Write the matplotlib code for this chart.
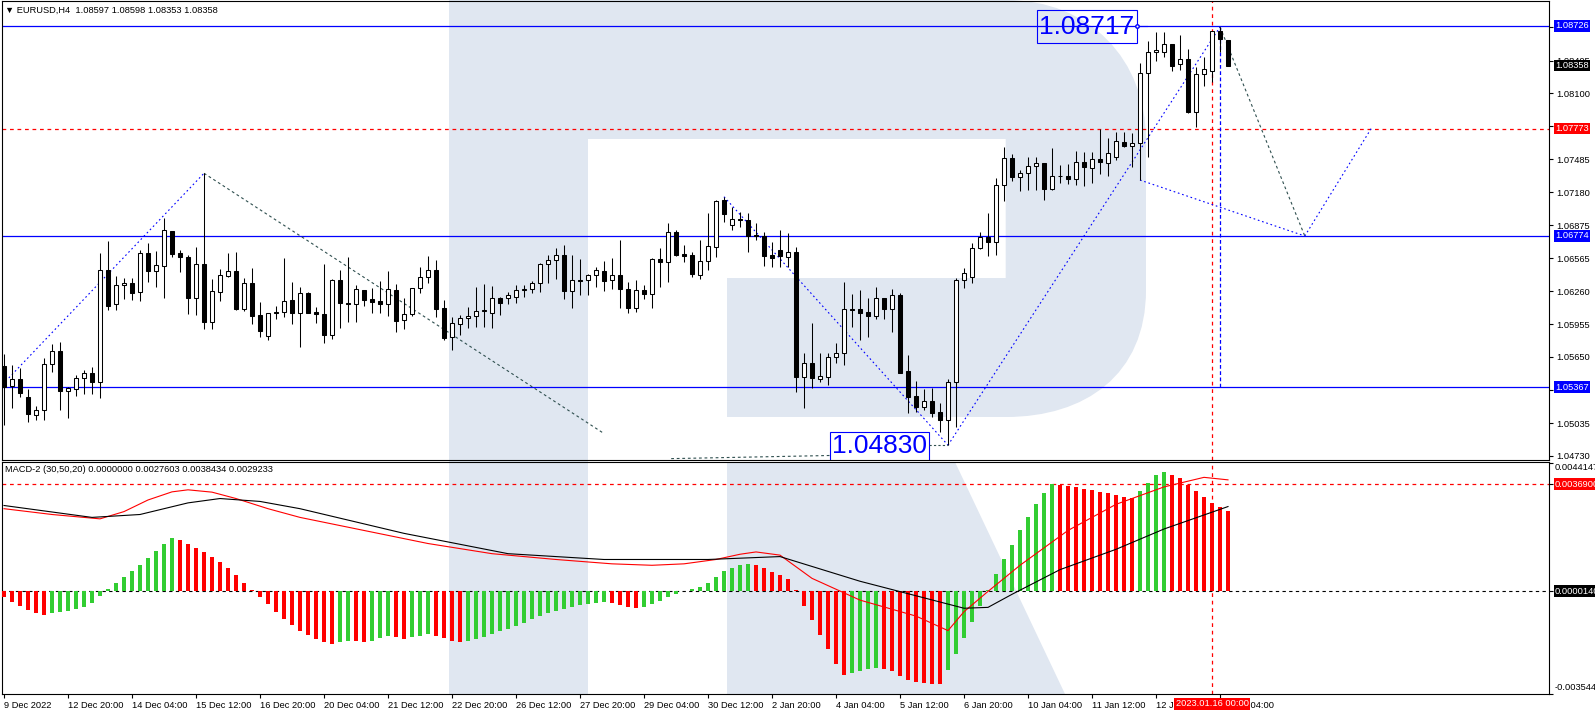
import numpy as np
import matplotlib
matplotlib.use("Agg")
import matplotlib.pyplot as plt
import matplotlib.transforms as mtransforms
from matplotlib.patches import Polygon, PathPatch, Rectangle
from matplotlib.path import Path

plt.rcParams['font.family'] = ['Liberation Sans', 'DejaVu Sans']

W, H = 1595, 716

# ── EURUSD H4 candles (bar 1 = 9 Dec 12:00) ────────────────────────────────
opens = [
    1.05566, 1.05380, 1.05442, 1.05275, 1.05108, 1.05154, 1.05582, 1.05703, 1.05331, 1.05352,
    1.05452, 1.05498, 1.05420, 1.06455, 1.06139, 1.06316, 1.06337, 1.06251, 1.06616, 1.06452,
    1.06498, 1.06820, 1.06613, 1.06576, 1.06201, 1.06511, 1.05978, 1.06251, 1.06405, 1.06446,
    1.06096, 1.06337, 1.06037, 1.05848, 1.06068, 1.06065, 1.06177, 1.06056, 1.06242, 1.06068,
    1.06046, 1.05851, 1.06362, 1.06154, 1.06139, 1.06269, 1.06189, 1.06170, 1.06139, 1.06269,
    1.05993, 1.06046, 1.06288, 1.06390, 1.06455, 1.06102, 1.05833, 1.05954, 1.06012, 1.06031,
    1.06077, 1.06061, 1.06198, 1.06198, 1.06205, 1.06272, 1.06279, 1.06334, 1.06511, 1.06548,
    1.06595, 1.06259, 1.06365, 1.06362, 1.06409, 1.06449, 1.06362, 1.06409, 1.06279, 1.06102,
    1.06272, 1.06232, 1.06560, 1.06535, 1.06808, 1.06604, 1.06597, 1.06414, 1.06539, 1.06675,
    1.07109, 1.06873, 1.06929, 1.06923, 1.06783, 1.06777, 1.06597, 1.06644, 1.06582, 1.06623,
    1.05461, 1.05591, 1.05448, 1.05461, 1.05652, 1.05684, 1.06093, 1.06093, 1.06068, 1.06031,
    1.06195, 1.06093, 1.06223, 1.05520, 1.05287, 1.05188, 1.05241, 1.05141, 1.05064, 1.05415,
    1.06365, 1.06390, 1.06660, 1.06762, 1.06715, 1.07248, 1.07496, 1.07319, 1.07357, 1.07425,
    1.07449, 1.07208, 1.07335, 1.07335, 1.07301, 1.07464, 1.07403, 1.07487, 1.07455, 1.07505,
    1.07650, 1.07610, 1.07641, 1.08286, 1.08481, 1.08481, 1.08555, 1.08369, 1.08416, 1.07929,
    1.08279, 1.08310, 1.08676, 1.08597,
]
highs = [
    1.05678, 1.05575, 1.05547, 1.05352, 1.05194, 1.05640, 1.05770, 1.05789, 1.05374, 1.05482,
    1.05529, 1.05560, 1.06613, 1.06728, 1.06402, 1.06381, 1.06381, 1.06644, 1.06706, 1.06637,
    1.06939, 1.06820, 1.06644, 1.06597, 1.06669, 1.07357, 1.06372, 1.06465, 1.06613, 1.06625,
    1.06381, 1.06474, 1.06164, 1.06056, 1.06121, 1.06567, 1.06347, 1.06297, 1.06254, 1.06112,
    1.06514, 1.06372, 1.06458, 1.06576, 1.06319, 1.06269, 1.06288, 1.06359, 1.06449, 1.06328,
    1.06195, 1.06288, 1.06483, 1.06588, 1.06551, 1.06179, 1.06024, 1.06040, 1.06117, 1.06297,
    1.06328, 1.06309, 1.06205, 1.06254, 1.06319, 1.06319, 1.06356, 1.06526, 1.06597, 1.06665,
    1.06690, 1.06595, 1.06558, 1.06418, 1.06483, 1.06545, 1.06569, 1.06737, 1.06349, 1.06365,
    1.06319, 1.06567, 1.06660, 1.06898, 1.06830, 1.06690, 1.06628, 1.06737, 1.06985, 1.07109,
    1.07139, 1.07046, 1.07000, 1.06985, 1.06892, 1.06808, 1.06721, 1.06830, 1.06799, 1.06675,
    1.05684, 1.05963, 1.05684, 1.05684, 1.05777, 1.06349, 1.06235, 1.06272, 1.06195, 1.06303,
    1.06195, 1.06284, 1.06247, 1.05668, 1.05427, 1.05349, 1.05359, 1.05219, 1.05442, 1.06381,
    1.06474, 1.06712, 1.06814, 1.06985, 1.07310, 1.07598, 1.07536, 1.07387, 1.07505, 1.07511,
    1.07449, 1.07594, 1.07434, 1.07443, 1.07564, 1.07557, 1.07557, 1.07765, 1.07682, 1.07743,
    1.07743, 1.07728, 1.08379, 1.08586, 1.08667, 1.08673, 1.08555, 1.08642, 1.08509, 1.08347,
    1.08434, 1.08680, 1.08717, 1.08598,
]
lows = [
    1.05018, 1.05176, 1.05281, 1.05046, 1.05064, 1.05064, 1.05513, 1.05157, 1.05086, 1.05290,
    1.05303, 1.05303, 1.05266, 1.06086, 1.06086, 1.06189, 1.06179, 1.06173, 1.06349, 1.06303,
    1.06195, 1.06582, 1.06442, 1.06046, 1.06040, 1.05910, 1.05910, 1.06170, 1.06396, 1.06086,
    1.06077, 1.05954, 1.05838, 1.05808, 1.06000, 1.06024, 1.05954, 1.05745, 1.06056, 1.05963,
    1.05777, 1.05814, 1.05922, 1.05972, 1.05978, 1.06126, 1.06056, 1.06056, 1.06033, 1.05885,
    1.05910, 1.06033, 1.06247, 1.06334, 1.06024, 1.05808, 1.05715, 1.05854, 1.05916, 1.05931,
    1.05931, 1.05916, 1.06043, 1.06139, 1.06154, 1.06210, 1.06242, 1.06256, 1.06340, 1.06372,
    1.06186, 1.06102, 1.06226, 1.06226, 1.06303, 1.06266, 1.06281, 1.06102, 1.06056, 1.06071,
    1.06186, 1.06102, 1.06303, 1.06349, 1.06588, 1.06535, 1.06396, 1.06372, 1.06458, 1.06582,
    1.06907, 1.06830, 1.06860, 1.06628, 1.06737, 1.06495, 1.06489, 1.06483, 1.06483, 1.05327,
    1.05179, 1.05359, 1.05420, 1.05390, 1.05597, 1.05575, 1.05931, 1.05808, 1.05838, 1.06000,
    1.06000, 1.05885, 1.05498, 1.05132, 1.05141, 1.05157, 1.05095, 1.04956, 1.04830, 1.05002,
    1.06288, 1.06340, 1.06650, 1.06591, 1.06597, 1.07102, 1.07288, 1.07195, 1.07201, 1.07201,
    1.07109, 1.07201, 1.07264, 1.07257, 1.07248, 1.07241, 1.07269, 1.07350, 1.07332, 1.07480,
    1.07598, 1.07418, 1.07294, 1.07505, 1.08403, 1.08440, 1.08310, 1.08316, 1.07920, 1.07790,
    1.08168, 1.08208, 1.08487, 1.08353,
]
closes = [
    1.05374, 1.05442, 1.05318, 1.05117, 1.05154, 1.05582, 1.05703, 1.05331, 1.05364, 1.05452,
    1.05498, 1.05420, 1.06455, 1.06126, 1.06319, 1.06337, 1.06247, 1.06616, 1.06452, 1.06505,
    1.06830, 1.06607, 1.06576, 1.06201, 1.06511, 1.05978, 1.06260, 1.06409, 1.06446, 1.06096,
    1.06337, 1.06033, 1.05894, 1.06056, 1.06056, 1.06167, 1.06056, 1.06242, 1.06061, 1.06046,
    1.05851, 1.06362, 1.06149, 1.06142, 1.06279, 1.06182, 1.06164, 1.06142, 1.06279, 1.05987,
    1.06046, 1.06288, 1.06390, 1.06455, 1.06099, 1.05826, 1.05963, 1.06012, 1.06031, 1.06080,
    1.06083, 1.06198, 1.06154, 1.06223, 1.06272, 1.06279, 1.06334, 1.06511, 1.06548, 1.06595,
    1.06266, 1.06362, 1.06360, 1.06409, 1.06455, 1.06359, 1.06409, 1.06279, 1.06108, 1.06272,
    1.06232, 1.06558, 1.06535, 1.06808, 1.06600, 1.06591, 1.06421, 1.06539, 1.06681, 1.07096,
    1.06976, 1.06929, 1.06923, 1.06777, 1.06774, 1.06591, 1.06572, 1.06588, 1.06623, 1.05461,
    1.05591, 1.05452, 1.05473, 1.05652, 1.05684, 1.06093, 1.06086, 1.06061, 1.06033, 1.06195,
    1.06093, 1.06223, 1.05504, 1.05281, 1.05188, 1.05241, 1.05132, 1.05064, 1.05415, 1.06365,
    1.06427, 1.06660, 1.06762, 1.06715, 1.07248, 1.07496, 1.07325, 1.07357, 1.07425, 1.07449,
    1.07208, 1.07332, 1.07330, 1.07301, 1.07464, 1.07412, 1.07487, 1.07459, 1.07548, 1.07659,
    1.07610, 1.07641, 1.08286, 1.08481, 1.08502, 1.08555, 1.08356, 1.08416, 1.07929, 1.08279,
    1.08323, 1.08676, 1.08602, 1.08358,
]

# ── MACD-2 (30,50,20), in units of 1e-4 ───────────────────────────────────
macd_hist = [
    -2.0, -3.5, -5.0, -6.5, -7.5, -8.0, -7.6, -7.2, -6.8, -6.2,
    -5.4, -4.0, -1.5, 1.0, 3.0, 5.0, 7.0, 9.0, 11.5, 14.0,
    16.5, 18.5, 17.8, 16.5, 15.0, 13.5, 12.0, 10.0, 8.0, 5.5,
    3.0, 0.5, -2.0, -4.5, -7.0, -9.5, -11.5, -13.5, -15.0, -16.5,
    -17.5, -18.0, -17.5, -17.0, -17.2, -17.6, -17.0, -16.2, -15.5, -15.8,
    -16.3, -15.8, -15.2, -14.6, -15.2, -16.2, -17.0, -17.4, -17.0, -16.4,
    -15.6, -14.8, -13.8, -12.8, -11.8, -10.8, -9.6, -8.4, -7.4, -6.6,
    -6.0, -5.4, -4.8, -4.3, -3.9, -3.6, -4.0, -4.6, -5.2, -5.6,
    -5.2, -4.2, -3.2, -1.8, -0.8, 0.2, 0.8, 1.6, 3.0, 5.0,
    7.0, 8.2, 9.0, 9.6, 9.0, 8.0, 6.8, 5.6, 4.2, 0.5,
    -5.0, -10.0, -15.0, -20.0, -25.0, -28.7, -28.2, -27.5, -26.8, -26.3,
    -26.6, -27.4, -29.0, -30.5, -31.3, -31.7, -31.9, -32.0, -27.0, -21.5,
    -16.0, -10.5, -5.0, 0.5, 6.0, 11.0, 16.0, 21.0, 25.5, 30.0,
    34.0, 37.0, 36.7, 36.3, 35.9, 35.4, 34.9, 34.4, 33.8, 33.2,
    32.6, 32.1, 34.5, 37.5, 40.0, 41.0, 40.2, 39.0, 36.5, 34.5,
    32.5, 30.5, 29.0, 27.6,
]
red_line_bars = [1, 7, 13, 16, 19, 22, 24, 27, 30, 34, 38, 46, 54, 62, 70, 77, 82, 86, 90,
                 93, 95, 98, 102, 108, 115, 119, 121, 124, 128, 134, 140, 146, 151, 154]
red_line_vals = [28.5, 26.5, 25.0, 27.5, 31.5, 34.3, 35.0, 34.2, 32.0, 28.5, 25.5, 21.0,
                 16.5, 13.0, 11.0, 9.5, 9.0, 9.5, 11.0, 12.8, 13.6, 12.5, 4.5, -3.0, -8.5,
                 -13.5, -7.0, 0.0, 9.0, 21.0, 30.0, 36.0, 39.3, 38.434]
black_line_bars = [1, 12, 18, 24, 28, 33, 38, 51, 64, 76, 89, 98, 108, 115, 121, 124, 127,
                   133, 140, 146, 154]
black_line_vals = [29.6, 25.5, 26.5, 30.5, 32.0, 31.0, 28.5, 20.0, 13.0, 11.0, 11.0, 12.0,
                   3.5, -1.5, -5.8, -5.5, -1.0, 7.5, 14.5, 21.5, 29.233]

# ── axis ticks / levels ───────────────────────────────────────────────────
tick_bars = [1, 9, 17, 25, 33, 41, 49, 57, 65, 73, 81, 89, 97, 105, 113, 121, 129, 137, 145, 153]
tick_labels = ["9 Dec 2022", "12 Dec 20:00", "14 Dec 04:00", "15 Dec 12:00", "16 Dec 20:00",
               "20 Dec 04:00", "21 Dec 12:00", "22 Dec 20:00", "26 Dec 12:00", "27 Dec 20:00",
               "29 Dec 04:00", "30 Dec 12:00", "2 Jan 20:00", "4 Jan 04:00", "5 Jan 12:00",
               "6 Jan 20:00", "10 Jan 04:00", "11 Jan 12:00", "12 Jan 20:00", "16 Jan 04:00"]
price_ticks = [1.04730, 1.05035, 1.05345, 1.05650, 1.05955, 1.06260, 1.06565, 1.06875,
               1.07180, 1.07485, 1.07795, 1.08100, 1.08405, 1.08715]
blue_levels = [1.08726, 1.06774, 1.05367]
red_level = 1.07773
last_close = 1.08358
macd_red_level = 0.0036900
macd_zero_level = 0.0000140
macd_top, macd_bottom = 0.0044147, -0.003544
cursor_bar = 152
cursor_label = "2023.01.16 00:00"

# wave / forecast lines: (bar positions, prices)
blue_waves = [([1.6, 26], [1.05455, 1.07357]),
              ([91, 119], [1.07139, 1.04830]),
              ([119, 153], [1.04830, 1.08717]),
              ([143, 163.6], [1.07294, 1.06774]),
              ([163.6, 171.9], [1.06774, 1.07773])]
grey_waves = [([26, 75.9], [1.07357, 1.04943]),
              ([84.4, 104.2], [1.04705, 1.04734]),
              ([153, 163.6], [1.08717, 1.06774])]

# ── figure & panes ────────────────────────────────────────────────────────
fig = plt.figure(figsize=(W / 100, H / 100), dpi=100)
fig.patch.set_facecolor("white")
pix = mtransforms.Affine2D().scale(1 / W, -1 / H).translate(0, 1) + fig.transFigure

def fx(px): return px / W
def fy(py): return 1 - py / H

ax1 = fig.add_axes([fx(2), fy(459.7), fx(1549) - fx(2), fy(1) - fy(459.7)])
ax2 = fig.add_axes([fx(2), fy(694.3), fx(1549) - fx(2), fy(461.7) - fy(694.3)])
xlim = (0.75, 194.125)
for ax in (ax1, ax2):
    ax.set_facecolor("none")
    ax.set_xlim(*xlim)
    for s in ax.spines.values():
        s.set_linewidth(0.8)
        s.set_color("black")
ax1.set_ylim(1.04695, 1.08958)
ax2.set_ylim(-0.003545, 0.004469)

# ── watermark "R" ─────────────────────────────────────────────────────────
wm = "#e0e7f1"
fig.add_artist(Polygon([(449, 0), (588, 0), (588, 694), (449, 694)], closed=True,
                       transform=pix, fc=wm, ec="none", zorder=-1))
M, L, C4, CL = Path.MOVETO, Path.LINETO, Path.CURVE4, Path.CLOSEPOLY
bowl = Path([(588, 0), (1006, 0), (1090, 0), (1146, 60), (1146, 140), (1146, 290),
             (1146, 375), (1085, 417), (1006, 417), (727, 417), (727, 278), (1005.7, 278),
             (1005.7, 139), (588, 139), (588, 0)],
            [M, L, C4, C4, C4, L, C4, C4, C4, L, L, L, L, L, CL])
fig.add_artist(PathPatch(bowl, transform=pix, fc=wm, ec="none", zorder=-1))
fig.add_artist(Polygon([(727, 462), (955, 462), (1065, 694), (727, 694)], closed=True,
                       transform=pix, fc=wm, ec="none", zorder=-1))

# ── levels and wave lines ─────────────────────────────────────────────────
for lv in blue_levels:
    ax1.axhline(lv, color="#0000ff", lw=0.9, zorder=2)
ax1.axhline(red_level, color="red", lw=0.9, ls=(0, (3, 3)), zorder=2)
for ax in (ax1, ax2):
    ax.axvline(cursor_bar, color="red", lw=0.9, ls=(0, (3, 3)), zorder=2)
ax1.vlines(cursor_bar + 1, blue_levels[2], blue_levels[0], color="#0000ff", lw=0.9,
           ls=(0, (3, 2)), zorder=2)
for xs, ys in blue_waves:
    ax1.plot(xs, ys, color="#0000ff", lw=0.8, ls=(0, (1.5, 2.5)), zorder=2)
for xs, ys in grey_waves:
    ax1.plot(xs, ys, color="#2f4f4f", lw=0.8, ls=(0, (2.5, 2.5)), zorder=2)

# ── candles ───────────────────────────────────────────────────────────────
o, h, l, c = (np.array(v) for v in (opens, highs, lows, closes))
idx = np.arange(1, len(o) + 1)
up = c >= o
ax1.vlines(idx, l, h, color="black", lw=0.75, zorder=3)
lo, ht = np.minimum(o, c), np.abs(c - o)
ax1.bar(idx[up], ht[up], bottom=lo[up], width=0.5, fc="white", ec="black", lw=0.75, zorder=4)
ax1.bar(idx[~up], ht[~up], bottom=lo[~up], width=0.5, fc="black", ec="black", lw=0.75, zorder=4)

# price extreme labels
ax1.add_patch(Rectangle((130.1, 1.08570), 12.5, 0.00304, fc="none", ec="#0000ff", lw=0.8, zorder=5))
ax1.text(136.35, 1.08720, "1.08717", color="#0000ff", fontsize=19, ha="center", va="center", zorder=6)
ax1.plot([142.6, 143.9], [1.08726, 1.08726], color="#0000ff", lw=0.8, marker="o", ms=2.5,
         markevery=[0], mfc="white", zorder=5)
ax1.add_patch(Rectangle((104.25, 1.04600), 12.35, 0.00353, fc="none", ec="#0000ff", lw=0.8, zorder=5))
ax1.text(110.45, 1.04821, "1.04830", color="#0000ff", fontsize=19, ha="center", va="center", zorder=6)
ax1.plot([116.6, 119], [1.04830, 1.04830], color="#2f4f4f", lw=0.8, ls=(0, (2, 2)), zorder=5)

# ── price axis ────────────────────────────────────────────────────────────
ax1.set_xticks([])
ax1.yaxis.tick_right()
ax1.set_yticks(price_ticks)
ax1.set_yticklabels([f"{v:.5f}" for v in price_ticks])
ax1.tick_params(axis="y", length=3, width=0.8, pad=2, labelsize=6.7)

def axis_label(ax, y, txt, fc, tc="white"):
    tr = mtransforms.blended_transform_factory(fig.transFigure, ax.transData)
    ax.text(1555 / W, y, txt, transform=tr, fontsize=6.7, color=tc, va="center", ha="left",
            bbox=dict(boxstyle="square,pad=0.15", fc=fc, ec="none"), clip_on=False, zorder=10)

for lv in blue_levels:
    axis_label(ax1, lv, f"{lv:.5f}", "#0000ff")
axis_label(ax1, red_level, f"{red_level:.5f}", "red")
axis_label(ax1, last_close, f"{last_close:.5f}", "black")

fig.text(fx(5), fy(10), "▼ EURUSD,H4  1.08597 1.08598 1.08353 1.08358", fontsize=6.7,
         va="center", ha="left")

# ── MACD pane ─────────────────────────────────────────────────────────────
hist = np.array(macd_hist) * 1e-4
rising = np.r_[False, hist[1:] > hist[:-1]]
colors = np.where(rising, "#32cd32", "#ff0000")
ax2.bar(idx, hist, width=0.45, color=colors, zorder=3)
ax2.plot(red_line_bars, np.array(red_line_vals) * 1e-4, color="red", lw=0.8, zorder=4)
ax2.plot(black_line_bars, np.array(black_line_vals) * 1e-4, color="black", lw=0.8, zorder=4)
ax2.axhline(macd_red_level, color="red", lw=0.9, ls=(0, (3, 3)), zorder=2)
ax2.axhline(macd_zero_level, color="black", lw=0.8, ls=(0, (3, 3)), zorder=2)

ax2.yaxis.tick_right()
ax2.set_yticks([macd_bottom, macd_zero_level, macd_red_level, macd_top])
ax2.set_yticklabels([])
ax2.tick_params(axis="y", length=3, width=0.8)
axis_label(ax2, macd_red_level, f"{macd_red_level:.7f}", "red")
axis_label(ax2, macd_zero_level, f"{macd_zero_level:.7f}", "black")
fig.text(fx(1555), fy(468), f"{macd_top:.7f}", fontsize=6.7, va="center", ha="left")
fig.text(fx(1555), fy(688), f"{macd_bottom:.6f}1", fontsize=6.7, va="center", ha="left")
fig.text(fx(5), fy(469), "MACD-2 (30,50,20) 0.0000000 0.0027603 0.0038434 0.0029233",
         fontsize=6.7, va="center", ha="left")

ax2.set_xticks(tick_bars)
ax2.set_xticklabels(tick_labels, ha="left")
ax2.tick_params(axis="x", length=3, width=0.8, pad=1.5, labelsize=6.7)
tr = mtransforms.blended_transform_factory(ax2.transData, pix)
ax2.text(cursor_bar, 704, cursor_label, transform=tr, fontsize=6.7, color="white",
         ha="center", va="center", clip_on=False, zorder=10,
         bbox=dict(boxstyle="square,pad=0.15", fc="red", ec="none"))

fig.savefig("out.png", dpi=100)
plt.close(fig)
